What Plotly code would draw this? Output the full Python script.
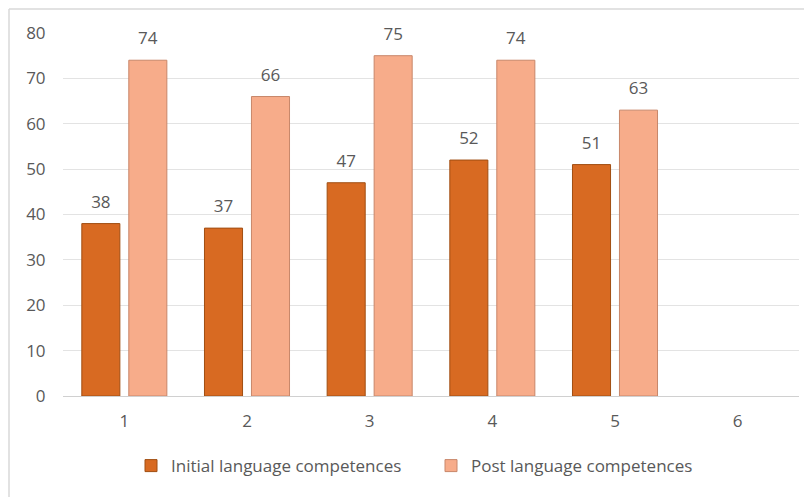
import plotly.graph_objects as go

categories = ["1", "2", "3", "4", "5", "6"]
initial = [38, 37, 47, 52, 51, None]
post = [74, 66, 75, 74, 63, None]
series_names = ["Initial language competences", "Post language competences"]
y_ticks = [0, 10, 20, 30, 40, 50, 60, 70, 80]

FONT = "Open Sans"
GRAY = "#595959"
FS = 17

label_tpl = "<span style='font-size:17px'>%{y}</span><br><span style='font-size:1px'> </span>"

fig = go.Figure()
fig.add_trace(go.Bar(
    x=categories, y=initial, name=series_names[0],
    marker=dict(color="#D86A22", line=dict(color="#A04E12", width=1)),
    texttemplate=label_tpl, textposition="outside", cliponaxis=False,
    constraintext="none",
    textfont=dict(family=FONT, size=10, color=GRAY),
))
fig.add_trace(go.Bar(
    x=categories, y=post, name=series_names[1],
    marker=dict(color="#F7AC8A", line=dict(color="#C8876A", width=1)),
    texttemplate=label_tpl, textposition="outside", cliponaxis=False,
    constraintext="none",
    textfont=dict(family=FONT, size=10, color=GRAY),
))

fig.update_layout(
    width=812, height=497,
    margin=dict(l=55, r=21, t=25, b=109),
    paper_bgcolor="white", plot_bgcolor="white",
    barmode="group", bargap=0.234, bargroupgap=0.19,
    font=dict(family=FONT, size=FS, color=GRAY),
    showlegend=True,
    legend=dict(orientation="h", x=0.5, xanchor="center", y=-0.193, yanchor="middle",
                font=dict(family=FONT, size=FS, color=GRAY), itemwidth=30,
                entrywidth=255, traceorder="normal"),
    xaxis=dict(type="category", categoryorder="array", categoryarray=categories,
               showgrid=False, showline=True, linecolor="#D0D0D0", linewidth=1,
               ticks="outside", ticklen=10, tickcolor="rgba(0,0,0,0)",
               tickfont=dict(family=FONT, size=FS, color=GRAY)),
    yaxis=dict(range=[0, 80], tickvals=y_ticks, showgrid=True, gridcolor="#E3E3E3",
               gridwidth=1, zeroline=False, showline=False,
               ticks="outside", ticklen=13, tickcolor="rgba(0,0,0,0)",
               tickfont=dict(family=FONT, size=FS, color=GRAY)),
    shapes=[
        dict(type="line", xref="paper", yref="paper", x0=(9 - 63) / 736, x1=1.1,
             y0=(396 - 9) / 363, y1=(396 - 9) / 363, line=dict(color="#D9D9D9", width=1.5)),
        dict(type="line", xref="paper", yref="paper", x0=(9 - 63) / 736, x1=(9 - 63) / 736,
             y0=(396 - 9) / 363, y1=-0.5, line=dict(color="#D9D9D9", width=1.5)),
    ],
)

fig.write_html("out.html")
